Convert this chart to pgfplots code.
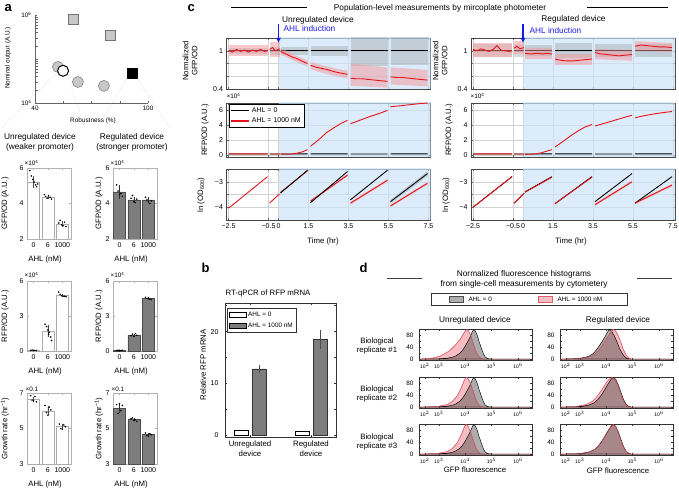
\documentclass[border=0pt]{standalone}
\usepackage{fontspec}
\setmainfont{Liberation Sans}
\usepackage{pgfplots}
\pgfplotsset{compat=1.18}
\usetikzlibrary{arrows.meta}

\definecolor{shadeb}{RGB}{205,228,248}
\definecolor{cred}{RGB}{232,20,25}
\definecolor{cpink}{RGB}{244,150,155}
\definecolor{cgband}{RGB}{150,158,162}
\definecolor{cblue}{RGB}{25,25,230}
\definecolor{mgray}{RGB}{200,200,200}
\definecolor{mgrayd}{RGB}{115,115,115}
\definecolor{bardark}{RGB}{125,125,125}
\definecolor{axgray}{RGB}{100,100,100}
\definecolor{hgray}{RGB}{60,60,60}
\definecolor{hpink}{RGB}{235,110,120}
\definecolor{hpinkd}{RGB}{225,95,105}

\newcommand{\fH}{\fontsize{8.3}{9.6}\selectfont}
\newcommand{\fL}{\fontsize{7.8}{9}\selectfont}
\newcommand{\fT}{\fontsize{7}{8}\selectfont}
\newcommand{\fS}{\fontsize{6.4}{7.4}\selectfont}
\newcommand{\fX}{\fontsize{5}{6}\selectfont}

\pgfplotsset{
  base/.style={scale only axis, anchor=south west,
    axis line style={axgray, line width=0.4pt},
    tick style={axgray, line width=0.35pt},
    tick align=inside, major tick length=2pt,
    tick label style={font=\fT},
    /pgf/number format/assume math mode=true},
  abar/.style={base, width=44pt, xmin=-0.45, xmax=2.6, xtick={0,1,2},
    xticklabels={0,6,1000}, axis line style={gray!60}, tick style={gray!60}},
  cax/.style={base, width=204pt, xmin=-2.6, xmax=7.6,
    xtick={-2.5,-0.5,0,1.5,3.5,5.5,7.5}, xticklabels={},
    grid=major, major grid style={gray!35, line width=0.3pt},
    unbounded coords=jump, axis line style={gray!55!black}},
  hax/.style={base, width=113pt, height=31pt, xmin=2.25, xmax=6.53,
    ymin=-3, ymax=102, xtick={2.47,3,4,5,6},
    xticklabels={10$^2$,10$^3$,10$^4$,10$^5$,10$^6$},
    x tick label style={font=\fX}, ytick={0,20,40,60,80}, yticklabels={},
    axis line style={black!80}, tick style={black!80}},
  gfill/.style={fill=hgray, fill opacity=0.42, draw=black, line width=0.45pt},
  pfill/.style={fill=hpink, fill opacity=0.45, draw=hpinkd, line width=0.45pt},
  pedge/.style={draw=hpinkd, line width=0.4pt},
  shd/.style={fill=shadeb, fill opacity=0.7, draw=none, forget plot},
  gb/.style={fill=cgband, fill opacity=0.38, draw=none, forget plot},
  pb/.style={fill=cpink, fill opacity=0.5, draw=none, forget plot},
  bl/.style={black, line width=0.9pt, forget plot},
  rl/.style={cred, line width=0.9pt, forget plot},
}

\begin{document}
\begin{tikzpicture}
\path[use as bounding box] (0,0) rectangle (679pt,490pt);

% ================= panel a =================
\node[anchor=base west, font=\fontsize{13}{13}\selectfont\bfseries] at (1pt,478.5pt) {a};
\begin{axis}[base, at={(35pt,387pt)}, width=113pt, height=88pt,
  xmin=40, xmax=100, ymode=log, ymin=1e4, ymax=1e6,
  axis x line*=bottom, axis y line*=left,
  xtick={40,55,70,85,100}, xticklabels={40,,,,100},
  ytick={1e4,1e5,1e6}, yticklabels={10\textsuperscript{4},,10\textsuperscript{6}},
  tick label style={font=\fS}, clip=false]
\addplot[only marks, mark=square*, mark size=5pt, mark options={fill=mgray, draw=mgrayd, line width=0.5pt}]
  coordinates {(60.2,8.1e5) (79.8,3.5e5)};
\addplot[only marks, mark=*, mark size=5.5pt, mark options={fill=mgray, draw=mgrayd, line width=0.5pt}]
  coordinates {(52.2,6.6e4) (62.8,3.0e4) (76.6,2.45e4)};
\addplot[only marks, mark=*, mark size=5.5pt, mark options={fill=white, draw=black, line width=1pt}]
  coordinates {(54.9,5.4e4)};
\addplot[only marks, mark=square*, mark size=5pt, mark options={fill=black, draw=black}]
  coordinates {(91.5,4.8e4)};
\end{axis}
\node[font=\fS] at (93pt,369pt) {Robustness (\%)};
\node[font=\fS, rotate=90] at (8pt,432pt) {Nominal output (A.U.)};
\draw[gray!55, line width=0.35pt, densely dotted] (57pt,418pt) -- (1pt,362pt);
\draw[gray!55, line width=0.35pt, densely dotted] (68pt,413pt) -- (85pt,362pt);
\draw[gray!55, line width=0.35pt, densely dotted] (127pt,412pt) -- (97pt,362pt);
\draw[gray!55, line width=0.35pt, densely dotted] (137pt,412pt) -- (170pt,362pt);
\node[font=\fH] at (40pt,353pt) {Unregulated device};
\node[font=\fH] at (40pt,343pt) {(weaker promoter)};
\node[font=\fH] at (132pt,353pt) {Regulated device};
\node[font=\fH] at (132pt,343pt) {(stronger promoter)};

% --- GFP bars
\begin{axis}[abar, at={(27pt,251pt)}, height=71pt, ymin=2, ymax=6, ytick={2,4,6}]
\addplot[ybar, bar width=0.85, bar shift=0pt, fill=white, draw=gray!65, line width=0.5pt,
  error bars/.cd, y dir=both, y explicit, error mark=none, error bar style={black!70, line width=0.4pt}]
  coordinates {(0,5.2) +- (0,0.35) (1,4.35) +- (0,0.12) (2,2.85) +- (0,0.15)};
\addplot[only marks, mark=*, mark size=0.55pt, black] coordinates {
 (-0.25,5.85)(-0.15,5.55)(-0.05,5.35)(0.05,5.2)(0.15,5.05)(0.22,4.95)(0.3,5.1)
 (0.75,4.5)(0.85,4.4)(0.95,4.3)(1.05,4.45)(1.15,4.35)(1.25,4.25)
 (1.75,2.9)(1.85,3.05)(1.95,2.8)(2.05,2.75)(2.15,2.95)(2.25,2.7)};
\end{axis}
\begin{axis}[abar, at={(113pt,251pt)}, height=71pt, ymin=2, ymax=6, ytick={2,4,6}]
\addplot[ybar, bar width=0.85, bar shift=0pt, fill=bardark, draw=black!70, line width=0.5pt,
  error bars/.cd, y dir=both, y explicit, error mark=none, error bar style={black!80, line width=0.4pt}]
  coordinates {(0,4.65) +- (0,0.4) (1,4.2) +- (0,0.15) (2,4.2) +- (0,0.15)};
\addplot[only marks, mark=*, mark size=0.55pt, black] coordinates {
 (-0.2,5.05)(-0.1,4.7)(0,4.5)(0.1,4.55)(0.2,4.4)
 (0.8,4.3)(0.9,4.45)(1.0,4.1)(1.1,4.05)(1.2,4.25)
 (1.8,4.35)(1.9,4.2)(2.0,4.1)(2.1,4.0)(2.2,4.15)};
\end{axis}
% --- RFP bars
\begin{axis}[abar, at={(27pt,139pt)}, height=70pt, ymin=0, ymax=6, ytick={0,3,6}]
\addplot[ybar, bar width=0.85, bar shift=0pt, fill=white, draw=gray!65, line width=0.5pt,
  error bars/.cd, y dir=both, y explicit, error mark=none, error bar style={black!70, line width=0.4pt}]
  coordinates {(0,0.05) +- (0,0.03) (1,1.7) +- (0,0.5) (2,4.75) +- (0,0.15)};
\addplot[only marks, mark=*, mark size=0.55pt, black] coordinates {
 (-0.2,0.05)(-0.1,0.08)(0,0.03)(0.1,0.06)(0.2,0.04)
 (0.8,2.3)(0.9,2.1)(1.0,1.8)(1.1,1.6)(1.2,1.2)(1.25,0.9)(1.05,1.45)
 (1.75,5.05)(1.85,4.85)(1.95,4.75)(2.05,4.7)(2.15,4.7)(2.25,4.65)};
\end{axis}
\begin{axis}[abar, at={(113pt,139pt)}, height=70pt, ymin=0, ymax=6, ytick={0,3,6}]
\addplot[ybar, bar width=0.85, bar shift=0pt, fill=bardark, draw=black!70, line width=0.5pt,
  error bars/.cd, y dir=both, y explicit, error mark=none, error bar style={black!80, line width=0.4pt}]
  coordinates {(0,0.04) +- (0,0.02) (1,1.37) +- (0,0.12) (2,4.5) +- (0,0.1)};
\addplot[only marks, mark=*, mark size=0.55pt, black] coordinates {
 (-0.2,0.04)(-0.1,0.07)(0,0.03)(0.1,0.05)(0.2,0.06)
 (0.8,1.3)(0.9,1.45)(1.0,1.25)(1.1,1.5)(1.2,1.35)
 (1.8,4.6)(1.9,4.5)(2.0,4.55)(2.1,4.45)(2.2,4.4)};
\end{axis}
% --- growth bars
\begin{axis}[abar, at={(27pt,26pt)}, height=71pt, ymin=3, ymax=7, ytick={3,5,7}]
\addplot[ybar, bar width=0.85, bar shift=0pt, fill=white, draw=gray!65, line width=0.5pt,
  error bars/.cd, y dir=both, y explicit, error mark=none, error bar style={black!70, line width=0.4pt}]
  coordinates {(0,6.65) +- (0,0.15) (1,6.0) +- (0,0.25) (2,5.1) +- (0,0.15)};
\addplot[only marks, mark=*, mark size=0.55pt, black] coordinates {
 (-0.2,6.85)(-0.1,6.6)(0,6.55)(0.1,6.8)(0.2,6.5)
 (0.8,6.3)(0.9,5.9)(1.0,5.75)(1.1,6.2)(1.2,6.05)
 (1.8,5.25)(1.9,5.0)(2.0,4.95)(2.1,5.2)(2.2,5.1)};
\end{axis}
\begin{axis}[abar, at={(113pt,26pt)}, height=71pt, ymin=3, ymax=7, ytick={3,5,7}]
\addplot[ybar, bar width=0.85, bar shift=0pt, fill=bardark, draw=black!70, line width=0.5pt,
  error bars/.cd, y dir=both, y explicit, error mark=none, error bar style={black!80, line width=0.4pt}]
  coordinates {(0,6.15) +- (0,0.3) (1,5.5) +- (0,0.1) (2,4.65) +- (0,0.1)};
\addplot[only marks, mark=*, mark size=0.55pt, black] coordinates {
 (-0.2,6.35)(-0.1,5.85)(0,6.4)(0.1,6.0)(0.2,6.3)
 (0.8,5.55)(0.9,5.6)(1.0,5.45)(1.1,5.5)(1.2,5.4)
 (1.8,4.75)(1.9,4.6)(2.0,4.55)(2.1,4.7)(2.2,4.65)};
\end{axis}
\node[font=\fL, rotate=90] at (5pt,286.5pt) {GFP/OD (A.U.)};
\node[font=\fL, rotate=90] at (99pt,286.5pt) {GFP/OD (A.U.)};
\node[font=\fL, rotate=90] at (5pt,174pt) {RFP/OD (A.U.)};
\node[font=\fL, rotate=90] at (99pt,174pt) {RFP/OD (A.U.)};
\node[font=\fL, rotate=90] at (5pt,61.5pt) {Growth rate (hr\textsuperscript{−1})};
\node[font=\fL, rotate=90] at (99pt,61.5pt) {Growth rate (hr\textsuperscript{−1})};
\node[font=\fL] at (45pt,231pt) {AHL (nM)};
\node[font=\fL] at (131pt,231pt) {AHL (nM)};
\node[font=\fL] at (45pt,119pt) {AHL (nM)};
\node[font=\fL] at (131pt,119pt) {AHL (nM)};
\node[font=\fL] at (45pt,6pt) {AHL (nM)};
\node[font=\fL] at (131pt,6pt) {AHL (nM)};
\node[font=\fS, anchor=west] at (21pt,327pt) {×10\textsuperscript{4}};
\node[font=\fS, anchor=west] at (107pt,327pt) {×10\textsuperscript{4}};
\node[font=\fS, anchor=west] at (21pt,215pt) {×10\textsuperscript{4}};
\node[font=\fS, anchor=west] at (107pt,215pt) {×10\textsuperscript{4}};
\node[font=\fS, anchor=west] at (22pt,101pt) {×0.1};
\node[font=\fS, anchor=west] at (108pt,101pt) {×0.1};

% ================= panel c =================
\node[anchor=base west, font=\fontsize{13}{13}\selectfont\bfseries] at (184pt,478.5pt) {c};
\node[font=\fH] at (440pt,482pt) {Population-level measurements by mircoplate photometer};
\draw[black, line width=0.6pt] (231pt,483pt) -- (307pt,483pt);
\draw[black, line width=0.6pt] (587pt,483pt) -- (668pt,483pt);
\node[font=\fH] at (318pt,470pt) {Unregulated device};
\node[font=\fH, text=cblue] at (309.5pt,461pt) {AHL induction};
\node[font=\fH] at (573.5pt,471pt) {Regulated device};
\node[font=\fH, text=cblue] at (555.5pt,459pt) {AHL induction};

% --- left GFP
\begin{axis}[cax, at={(226.5pt,401pt)}, height=51pt, ymin=0.4, ymax=1.2,
  ytick={0.4,0.6,0.8,1}, yticklabels={0.4,,,1}]
\addplot[shd] coordinates {(0,0.3)(8,0.3)(8,1.3)(0,1.3)};
\addplot[gb] coordinates {(-2.5,1.05)(-0.55,1.05)(-0.55,0.95)(-2.5,0.95)};
\addplot[gb] coordinates {(-0.45,1.06)(0.05,1.06)(0.05,0.94)(-0.45,0.94)};
\addplot[gb] coordinates {(0.1,1.06)(1.45,1.06)(1.45,0.94)(0.1,0.94)};
\addplot[gb] coordinates {(1.6,1.08)(3.45,1.08)(3.45,0.92)(1.6,0.92)};
\addplot[gb] coordinates {(3.6,1.24)(5.45,1.24)(5.45,0.76)(3.6,0.76)};
\addplot[gb] coordinates {(5.6,1.22)(7.45,1.22)(7.45,0.78)(5.6,0.78)};
\addplot[bl] coordinates {(-2.5,1)(-0.55,1)(-0.5,nan)(-0.45,1)(0.05,1)(0.07,nan)(0.1,1)(1.45,1)(1.5,nan)(1.6,1)(3.45,1)(3.5,nan)(3.6,1)(5.45,1)(5.5,nan)(5.6,1)(7.45,1)};
\addplot[pb] coordinates {(-2.5,1.09)(-0.55,1.09)(-0.55,0.91)(-2.5,0.91)};
\addplot[pb] coordinates {(-0.45,1.14)(0.05,1.14)(0.05,0.9)(-0.45,0.9)};
\addplot[pb] coordinates {(0.1,1.04)(0.4,1.0)(0.7,0.95)(1.0,0.91)(1.45,0.85)(1.45,0.75)(1.0,0.81)(0.7,0.85)(0.4,0.9)(0.1,0.94)};
\addplot[pb] coordinates {(1.6,0.83)(2.0,0.79)(2.5,0.75)(3.0,0.71)(3.45,0.69)(3.45,0.57)(3.0,0.59)(2.5,0.63)(2.0,0.67)(1.6,0.71)};
\addplot[pb] coordinates {(3.6,0.8)(5.45,0.74)(5.45,0.42)(3.6,0.45)};
\addplot[pb] coordinates {(5.6,0.74)(7.45,0.7)(7.45,0.44)(5.6,0.47)};
\addplot[rl] coordinates {(-2.5,1.0)(-2.3,0.98)(-2.1,1.02)(-1.9,0.99)(-1.7,1.01)(-1.5,0.98)(-1.3,1.01)(-1.1,0.99)(-0.9,1.02)(-0.7,0.99)(-0.55,1.0)(-0.5,nan)
 (-0.45,1.02)(-0.3,1.05)(-0.15,1.0)(0.05,1.03)(0.07,nan)
 (0.1,0.99)(0.3,0.96)(0.5,0.93)(0.7,0.9)(0.9,0.88)(1.1,0.85)(1.3,0.82)(1.45,0.8)(1.5,nan)
 (1.6,0.77)(1.9,0.74)(2.2,0.72)(2.5,0.7)(2.8,0.67)(3.1,0.65)(3.45,0.63)(3.5,nan)
 (3.6,0.57)(3.9,0.56)(4.2,0.56)(4.5,0.55)(4.8,0.54)(5.1,0.53)(5.45,0.52)(5.5,nan)
 (5.6,0.59)(5.9,0.58)(6.2,0.58)(6.5,0.57)(6.8,0.56)(7.1,0.55)(7.45,0.54)};
\end{axis}
% --- right GFP
\begin{axis}[cax, at={(471pt,401pt)}, height=51pt, ymin=0.4, ymax=1.2,
  ytick={0.4,0.6,0.8,1}, yticklabels={0.4,,,1}]
\addplot[shd] coordinates {(0,0.3)(8,0.3)(8,1.3)(0,1.3)};
\addplot[gb] coordinates {(-2.5,1.1)(-0.55,1.1)(-0.55,0.9)(-2.5,0.9)};
\addplot[gb] coordinates {(-0.45,1.1)(0.05,1.1)(0.05,0.9)(-0.45,0.9)};
\addplot[gb] coordinates {(0.1,1.09)(1.45,1.09)(1.45,0.91)(0.1,0.91)};
\addplot[gb] coordinates {(1.6,1.12)(3.45,1.12)(3.45,0.88)(1.6,0.88)};
\addplot[gb] coordinates {(3.6,1.1)(5.45,1.1)(5.45,0.9)(3.6,0.9)};
\addplot[gb] coordinates {(5.6,1.1)(7.45,1.1)(7.45,0.9)(5.6,0.9)};
\addplot[bl] coordinates {(-2.5,1)(-0.55,1)(-0.5,nan)(-0.45,1)(0.05,1)(0.07,nan)(0.1,1)(1.45,1)(1.5,nan)(1.6,1)(3.45,1)(3.5,nan)(3.6,1)(5.45,1)(5.5,nan)(5.6,1)(7.45,1)};
\addplot[pb] coordinates {(-2.5,1.12)(-0.55,1.12)(-0.55,0.9)(-2.5,0.9)};
\addplot[pb] coordinates {(-0.45,1.15)(0.05,1.15)(0.05,0.95)(-0.45,0.95)};
\addplot[pb] coordinates {(0.1,1.04)(1.45,1.04)(1.45,0.87)(0.1,0.87)};
\addplot[pb] coordinates {(1.6,0.95)(3.45,0.95)(3.45,0.77)(1.6,0.77)};
\addplot[pb] coordinates {(3.6,1.03)(5.45,1.01)(5.45,0.84)(3.6,0.87)};
\addplot[pb] coordinates {(5.6,1.15)(7.45,1.12)(7.45,0.98)(5.6,1.0)};
\addplot[rl] coordinates {(-2.5,1.02)(-2.3,1.0)(-2.1,1.03)(-1.9,1.01)(-1.7,0.99)(-1.5,1.02)(-1.3,1.08)(-1.1,1.01)(-0.9,1.0)(-0.7,0.99)(-0.55,1.0)(-0.5,nan)
 (-0.45,1.04)(-0.3,1.07)(-0.15,1.03)(0.05,1.05)(0.07,nan)
 (0.1,0.96)(0.4,0.95)(0.7,0.96)(1.0,0.95)(1.2,0.96)(1.45,0.95)(1.5,nan)
 (1.6,0.87)(1.9,0.85)(2.2,0.84)(2.5,0.84)(2.8,0.85)(3.1,0.86)(3.45,0.87)(3.5,nan)
 (3.6,0.97)(3.9,0.95)(4.2,0.94)(4.5,0.93)(4.8,0.92)(5.1,0.93)(5.45,0.94)(5.5,nan)
 (5.6,1.07)(5.9,1.09)(6.2,1.08)(6.5,1.07)(6.8,1.06)(7.1,1.06)(7.45,1.05)};
\end{axis}

% --- left RFP
\begin{axis}[cax, at={(226.5pt,333pt)}, height=54pt, ymin=-0.3, ymax=7, ytick={0,2,4,6},
  legend style={at={(0.01,0.98)}, anchor=north west, font=\fT, draw=black, inner sep=1pt, row sep=0pt, legend cell align=left},
  legend image code/.code={\draw[#1] (0pt,0pt) -- (18pt,0pt);}]
\addplot[shd] coordinates {(0,-1)(8,-1)(8,8)(0,8)};
\addlegendimage{black, line width=1.8pt}
\addlegendentry{AHL = 0}
\addlegendimage{cred, line width=2.2pt}
\addlegendentry{AHL = 1000 nM}
\addplot[bl] coordinates {(-2.5,0.1)(-0.55,0.1)(-0.5,nan)(-0.45,0.1)(0.05,0.1)(0.07,nan)(0.1,0.1)(1.45,0.12)(1.5,nan)(1.6,0.12)(3.45,0.12)(3.5,nan)(3.6,0.1)(5.45,0.1)(5.5,nan)(5.6,0.12)(7.45,0.12)};
\addplot[rl] coordinates {(-2.5,0.12)(-0.55,0.12)(-0.5,nan)(-0.45,0.1)(0.05,0.1)(0.07,nan)
 (0.1,0.08)(0.6,0.1)(0.9,0.2)(1.2,0.4)(1.45,0.7)(1.5,nan)
 (1.6,1.15)(2.0,2.0)(2.4,3.0)(2.8,3.7)(3.1,4.2)(3.45,4.65)(3.5,nan)
 (3.6,4.2)(4.0,4.6)(4.5,5.1)(5.0,5.55)(5.45,6.0)(5.5,nan)
 (5.6,6.5)(6.0,6.6)(6.5,6.75)(7.0,6.9)(7.45,7.0)};
\end{axis}
% --- right RFP
\begin{axis}[cax, at={(471pt,333pt)}, height=54pt, ymin=-0.3, ymax=7, ytick={0,2,4,6}]
\addplot[shd] coordinates {(0,-1)(8,-1)(8,8)(0,8)};
\addplot[bl] coordinates {(-2.5,0.1)(-0.55,0.1)(-0.5,nan)(-0.45,0.1)(0.05,0.1)(0.07,nan)(0.1,0.1)(1.45,0.12)(1.5,nan)(1.6,0.12)(3.45,0.12)(3.5,nan)(3.6,0.1)(5.45,0.1)(5.5,nan)(5.6,0.12)(7.45,0.12)};
\addplot[rl] coordinates {(-2.5,0.12)(-0.55,0.12)(-0.5,nan)(-0.45,0.1)(0.05,0.1)(0.07,nan)
 (0.1,0.05)(0.6,0.1)(0.9,0.25)(1.2,0.5)(1.45,0.7)(1.5,nan)
 (1.6,1.05)(2.0,1.8)(2.4,2.6)(2.8,3.3)(3.1,3.75)(3.45,4.1)(3.5,nan)
 (3.6,3.9)(4.0,4.2)(4.5,4.6)(5.0,5.0)(5.45,5.35)(5.5,nan)
 (5.6,5.0)(6.0,5.25)(6.5,5.5)(7.0,5.7)(7.45,5.85)};
\end{axis}

% --- left lnOD
\begin{axis}[cax, at={(226.5pt,270pt)}, height=51pt, ymin=-4.5, ymax=-2.5,
  ytick={-4.5,-4,-3.5,-3,-2.5}, yticklabels={,−4,,−3,},
  xticklabels={−2.5,−0.5,0,1.5,3.5,5.5,7.5}]
\addplot[shd] coordinates {(0,-5)(8,-5)(8,-2)(0,-2)};
\addplot[gb] coordinates {(5.6,-3.7)(7.45,-2.58)(7.45,-2.78)(5.6,-3.86)};
\addplot[pb] coordinates {(1.6,-3.71)(3.45,-2.69)(3.45,-2.79)(1.6,-3.81)};
\addplot[pb] coordinates {(3.6,-3.79)(5.45,-2.89)(5.45,-2.99)(3.6,-3.89)};
\addplot[pb] coordinates {(5.6,-3.9)(7.45,-3.01)(7.45,-3.11)(5.6,-4.0)};
\addplot[rl] coordinates {(-2.5,-4.04)(-0.55,-2.8)(-0.5,nan)(-0.45,-3.84)(0.05,-3.48)(0.07,nan)(0.1,-3.42)(1.45,-2.57)(1.5,nan)(1.6,-3.76)(3.45,-2.74)(3.5,nan)(3.6,-3.84)(5.45,-2.94)(5.5,nan)(5.6,-3.95)(7.45,-3.06)};
\addplot[bl] coordinates {(0.1,-3.44)(1.45,-2.55)(1.5,nan)(1.6,-3.82)(3.45,-2.6)(3.5,nan)(3.6,-3.71)(5.45,-2.55)(5.5,nan)(5.6,-3.78)(7.45,-2.68)};
\end{axis}
% --- right lnOD
\begin{axis}[cax, at={(471pt,270pt)}, height=51pt, ymin=-4.5, ymax=-2.5,
  ytick={-4.5,-4,-3.5,-3,-2.5}, yticklabels={,−4,,−3,},
  xticklabels={−2.5,−0.5,0,1.5,3.5,5.5,7.5}]
\addplot[shd] coordinates {(0,-5)(8,-5)(8,-2)(0,-2)};
\addplot[pb] coordinates {(3.6,-3.85)(5.45,-2.95)(5.45,-3.05)(3.6,-3.95)};
\addplot[pb] coordinates {(5.6,-3.79)(7.45,-3.08)(7.45,-3.18)(5.6,-3.89)};
\addplot[bl] coordinates {(-2.5,-4.0)(-0.55,-2.8)(-0.5,nan)(-0.45,-3.84)(0.05,-3.45)(0.07,nan)(0.1,-3.4)(1.45,-2.8)(1.5,nan)(1.6,-3.86)(3.45,-2.8)(3.5,nan)(3.6,-3.78)(5.45,-2.68)(5.5,nan)(5.6,-3.84)(7.45,-2.8)};
\addplot[rl] coordinates {(-2.5,-4.0)(-0.55,-2.8)(-0.5,nan)(-0.45,-3.84)(0.05,-3.45)(0.07,nan)(0.1,-3.41)(1.45,-2.82)(1.5,nan)(1.6,-3.86)(3.45,-2.82)(3.5,nan)(3.6,-3.9)(5.45,-3.0)(5.5,nan)(5.6,-3.84)(7.45,-3.13)};
\end{axis}

\draw[-{Latex[length=5pt,width=5pt]}, cblue, line width=1.2pt] (278.5pt,466pt) -- (278.5pt,447pt);
\draw[-{Latex[length=5pt,width=5pt]}, cblue, line width=1.2pt] (523pt,466pt) -- (523pt,447pt);
\node[font=\fL, rotate=90, align=center] at (190pt,429pt) {Normalized\\GFP/OD};
\node[font=\fL, rotate=90, align=center] at (440pt,429pt) {Normalized\\GFP/OD};
\node[font=\fL, rotate=90] at (205pt,360pt) {RFP/OD (A.U.)};
\node[font=\fL, rotate=90] at (449pt,360pt) {RFP/OD (A.U.)};
\node[font=\fL, rotate=90] at (201pt,295pt) {ln (OD\textsubscript{600})};
\node[font=\fL, rotate=90] at (446pt,295pt) {ln (OD\textsubscript{600})};
\node[font=\fS, anchor=west] at (223pt,394pt) {×10\textsuperscript{4}};
\node[font=\fS, anchor=west] at (467pt,394pt) {×10\textsuperscript{4}};
\node[font=\fL] at (323pt,249pt) {Time (hr)};
\node[font=\fL] at (571pt,249pt) {Time (hr)};

% ================= panel b =================
\node[anchor=base west, font=\fontsize{13}{13}\selectfont\bfseries] at (198pt,217pt) {b};
\node[font=\fL] at (268pt,197pt) {RT-qPCR of RFP mRNA};
\begin{axis}[base, at={(225pt,53pt)}, width=111pt, height=134pt, xmin=0.59, xmax=2.41,
  ymin=-0.3, ymax=25.5, xtick={1,2}, xticklabels={,}, ytick={0,5,10,15,20,25}, yticklabels={},
  axis line style={black!80}, tick style={black!80},
  legend style={at={(0.018,0.963)}, anchor=north west, font=\fS, draw=black!80, inner sep=1.5pt, row sep=1pt, legend cell align=left}]
\addlegendimage{area legend, fill=white, draw=black}
\addlegendentry{AHL = 0}
\addlegendimage{area legend, fill=bardark, draw=black}
\addlegendentry{AHL = 1000 nM}
\addplot[ybar, bar width=0.23, bar shift=0pt, fill=white, draw=black, line width=0.4pt, forget plot,
  error bars/.cd, y dir=both, y explicit, error mark=none, error bar style={black, line width=0.4pt}]
  coordinates {(0.852,1.0) +- (0,0.05) (1.852,0.8) +- (0,0.04)};
\addplot[ybar, bar width=0.23, bar shift=0pt, fill=bardark, draw=black!80, line width=0.4pt, forget plot,
  error bars/.cd, y dir=both, y explicit, error mark=none, error bar style={black!70, line width=0.4pt}]
  coordinates {(1.148,12.8) +- (0,0.8) (2.148,18.5) +- (0,1.8)};
\end{axis}
\node[font=\fT, anchor=east] at (222pt,54.6pt) {0};
\node[font=\fT, anchor=east] at (222pt,106.5pt) {10};
\node[font=\fT, anchor=east] at (222pt,158.4pt) {20};
\node[font=\fL, rotate=90] at (203pt,125pt) {Relative RFP mRNA};
\node[font=\fL] at (250pt,46pt) {Unregulated};
\node[font=\fL] at (250pt,36pt) {device};
\node[font=\fL] at (311pt,46pt) {Regulated};
\node[font=\fL] at (311pt,36pt) {device};

% ================= panel d =================
\node[anchor=base west, font=\fontsize{13}{13}\selectfont\bfseries] at (356pt,217pt) {d};
\node[font=\fH] at (524pt,216pt) {Normalized fluorescence histograms};
\node[font=\fH] at (524pt,206pt) {from single-cell measurements by cytometery};
\draw[black!75, line width=0.6pt] (387pt,212pt) -- (422pt,212pt);
\draw[black!75, line width=0.6pt] (637pt,212pt) -- (672pt,212pt);
\draw[black!80, line width=0.4pt] (431pt,185pt) rectangle (627pt,197pt);
\filldraw[fill=hgray, fill opacity=0.42, draw=black!70, line width=0.4pt] (449pt,188pt) rectangle (463pt,194pt);
\node[font=\fS, anchor=west] at (465pt,191pt) {AHL = 0};
\filldraw[fill=hpink, fill opacity=0.45, draw=hpinkd, line width=0.4pt] (538pt,188pt) rectangle (552pt,194pt);
\node[font=\fS, anchor=west] at (554pt,191pt) {AHL = 1000 nM};
\node[font=\fH] at (475pt,170pt) {Unregulated device};
\node[font=\fH] at (618pt,170pt) {Regulated device};
\node[font=\fL, align=center] at (377pt,144pt) {Biological\\replicate \#1};
\node[font=\fL, align=center] at (377pt,96pt) {Biological\\replicate \#2};
\node[font=\fL, align=center] at (377pt,48.5pt) {Biological\\replicate \#3};
\node[font=\fL] at (475pt,20pt) {GFP fluorescence};
\node[font=\fL] at (618pt,19pt) {GFP fluorescence};
% y tick labels of the histograms (rows at 130, 82, 35)
\foreach \yb in {130,82,35}{
  \node[font=\fS, anchor=east] at (417pt,\yb pt+0.9pt) {0};
  \node[font=\fS, anchor=east] at (417pt,\yb pt+12.7pt) {40};
  \node[font=\fS, anchor=east] at (417pt,\yb pt+24.5pt) {80};
  \node[font=\fS, anchor=east] at (558pt,\yb pt+0.9pt) {0};
  \node[font=\fS, anchor=east] at (558pt,\yb pt+12.7pt) {40};
  \node[font=\fS, anchor=east] at (558pt,\yb pt+24.5pt) {80};
}

% unregulated row 1
\begin{axis}[hax, at={(419pt,130pt)}]
\addplot[pfill] coordinates {(2.25,0)(2.5,1)(2.8,4)(3.04,10)(3.2,17)(3.42,29)(3.6,45)(3.8,66)(3.92,84)(4.0,95)(4.05,100)(4.12,96)(4.2,82)(4.3,55)(4.4,28)(4.5,10)(4.6,3)(4.72,0)(6.53,0)} \closedcycle;
\addplot[gfill] coordinates {(2.25,0)(3.0,1)(3.3,3)(3.5,6)(3.65,11)(3.8,20)(3.9,30)(4.0,44)(4.1,60)(4.2,78)(4.27,93)(4.32,100)(4.38,96)(4.45,82)(4.52,61)(4.6,40)(4.69,18)(4.76,7)(4.84,2)(5.0,0)(6.53,0)} \closedcycle;
\addplot[pedge] coordinates {(2.25,0)(2.5,1)(2.8,4)(3.04,10)(3.2,17)(3.42,29)(3.6,45)(3.8,66)(3.92,84)(4.0,95)(4.05,100)(4.12,96)(4.2,82)(4.3,55)(4.4,28)(4.5,10)(4.6,3)(4.72,0)};
\end{axis}
% unregulated row 2
\begin{axis}[hax, at={(419pt,82pt)}]
\addplot[pfill] coordinates {(2.25,0)(2.7,1)(3.0,3)(3.3,8)(3.5,18)(3.7,38)(3.85,65)(3.95,88)(4.02,99)(4.06,100)(4.13,94)(4.22,75)(4.32,48)(4.42,22)(4.52,7)(4.62,1)(4.75,0)(6.53,0)} \closedcycle;
\addplot[gfill] coordinates {(2.25,0)(3.0,1)(3.3,3)(3.5,6)(3.65,11)(3.8,20)(3.9,30)(4.0,44)(4.1,60)(4.2,78)(4.27,93)(4.32,100)(4.38,96)(4.45,82)(4.52,61)(4.6,40)(4.69,18)(4.76,7)(4.84,2)(5.0,0)(6.53,0)} \closedcycle;
\addplot[pedge] coordinates {(2.25,0)(2.7,1)(3.0,3)(3.3,8)(3.5,18)(3.7,38)(3.85,65)(3.95,88)(4.02,99)(4.06,100)(4.13,94)(4.22,75)(4.32,48)(4.42,22)(4.52,7)(4.62,1)(4.75,0)};
\end{axis}
% unregulated row 3
\begin{axis}[hax, at={(419pt,35pt)}]
\addplot[pfill] coordinates {(2.25,0)(2.7,1)(3.0,3)(3.3,8)(3.5,18)(3.7,38)(3.85,65)(3.95,88)(4.0,98)(4.04,100)(4.11,94)(4.2,75)(4.3,48)(4.4,22)(4.5,7)(4.6,1)(4.75,0)(6.53,0)} \closedcycle;
\addplot[gfill] coordinates {(2.25,0)(3.0,1)(3.3,3)(3.5,6)(3.65,11)(3.8,20)(3.9,30)(4.0,44)(4.1,60)(4.2,78)(4.27,93)(4.32,100)(4.38,96)(4.45,82)(4.52,61)(4.6,40)(4.69,18)(4.76,7)(4.84,2)(5.0,0)(6.53,0)} \closedcycle;
\addplot[pedge] coordinates {(2.25,0)(2.7,1)(3.0,3)(3.3,8)(3.5,18)(3.7,38)(3.85,65)(3.95,88)(4.0,98)(4.04,100)(4.11,94)(4.2,75)(4.3,48)(4.4,22)(4.5,7)(4.6,1)(4.75,0)};
\end{axis}
% regulated row 1
\begin{axis}[hax, at={(560pt,130pt)}]
\addplot[pfill] coordinates {(2.25,0)(2.8,1)(3.1,3)(3.3,6)(3.5,13)(3.65,24)(3.8,40)(3.95,60)(4.05,75)(4.15,88)(4.22,97)(4.28,100)(4.36,95)(4.45,80)(4.55,58)(4.65,32)(4.75,14)(4.85,4)(4.95,0)(6.53,0)} \closedcycle;
\addplot[gfill] coordinates {(2.25,0)(2.7,1)(3.0,3)(3.2,6)(3.35,10)(3.5,18)(3.62,30)(3.73,44)(3.85,60)(3.95,75)(4.05,92)(4.12,100)(4.2,95)(4.3,80)(4.4,60)(4.5,38)(4.6,20)(4.7,8)(4.8,2)(4.95,0)(6.53,0)} \closedcycle;
\addplot[pedge] coordinates {(2.25,0)(2.8,1)(3.1,3)(3.3,6)(3.5,13)(3.65,24)(3.8,40)(3.95,60)(4.05,75)(4.15,88)(4.22,97)(4.28,100)(4.36,95)(4.45,80)(4.55,58)(4.65,32)(4.75,14)(4.85,4)(4.95,0)};
\end{axis}
% regulated row 2
\begin{axis}[hax, at={(560pt,82pt)}]
\addplot[pfill] coordinates {(2.25,0)(2.7,1)(3.0,4)(3.25,9)(3.45,18)(3.6,30)(3.75,48)(3.9,68)(4.02,85)(4.12,95)(4.2,99)(4.25,100)(4.33,94)(4.42,78)(4.52,54)(4.62,28)(4.72,11)(4.82,3)(4.95,0)(6.53,0)} \closedcycle;
\addplot[gfill] coordinates {(2.25,0)(2.8,1)(3.1,3)(3.35,7)(3.55,15)(3.7,27)(3.85,45)(3.98,65)(4.1,83)(4.2,96)(4.28,100)(4.36,94)(4.45,77)(4.55,52)(4.65,27)(4.75,10)(4.85,3)(4.95,0)(6.53,0)} \closedcycle;
\addplot[pedge] coordinates {(2.25,0)(2.7,1)(3.0,4)(3.25,9)(3.45,18)(3.6,30)(3.75,48)(3.9,68)(4.02,85)(4.12,95)(4.2,99)(4.25,100)(4.33,94)(4.42,78)(4.52,54)(4.62,28)(4.72,11)(4.82,3)(4.95,0)};
\end{axis}
% regulated row 3
\begin{axis}[hax, at={(560pt,35pt)}]
\addplot[pfill] coordinates {(2.25,0)(2.8,1)(3.1,3)(3.35,7)(3.55,15)(3.7,28)(3.85,46)(3.98,66)(4.1,84)(4.2,96)(4.27,100)(4.35,94)(4.44,77)(4.54,52)(4.64,27)(4.74,10)(4.84,3)(4.95,0)(6.53,0)} \closedcycle;
\addplot[gfill] coordinates {(2.25,0)(2.8,1)(3.1,3)(3.35,7)(3.55,15)(3.7,27)(3.85,45)(3.98,65)(4.1,83)(4.2,96)(4.28,100)(4.36,94)(4.45,77)(4.55,52)(4.65,27)(4.75,10)(4.85,3)(4.95,0)(6.53,0)} \closedcycle;
\addplot[pedge] coordinates {(2.25,0)(2.8,1)(3.1,3)(3.35,7)(3.55,15)(3.7,28)(3.85,46)(3.98,66)(4.1,84)(4.2,96)(4.27,100)(4.35,94)(4.44,77)(4.54,52)(4.64,27)(4.74,10)(4.84,3)(4.95,0)};
\end{axis}
\end{tikzpicture}
\end{document}
